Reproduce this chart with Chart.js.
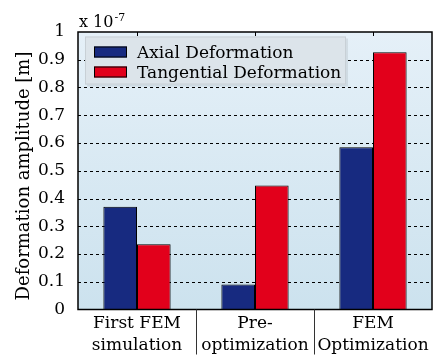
<!DOCTYPE html>
<html>
<head>
<meta charset="utf-8">
<script src="https://cdn.jsdelivr.net/npm/chart.js@4"></script>
<style>
  html, body { margin: 0; padding: 0; background: #ffffff; }
  #wrap { width: 439px; height: 358px; }
</style>
</head>
<body>
<div id="wrap"><canvas id="c" width="439" height="358"></canvas></div>
<script>
// Stage labels (two lines each) and measured amplitudes in units of 1e-7 m
const categories = [["First FEM", "simulation"], ["Pre-", "optimization"], ["FEM", "Optimization"]];
const axialValues = [0.37, 0.09, 0.585];
const tangentialValues = [0.235, 0.447, 0.927];
const seriesNames = ["Axial Deformation", "Tangential Deformation"];
const seriesColors = ["#172a80", "#e2001b"];
const yTickValues = [0, 0.1, 0.2, 0.3, 0.4, 0.5, 0.6, 0.7, 0.8, 0.9, 1];
const yTitle = "Deformation amplitude [m]";

const FONT = "'DejaVu Serif', serif";

// Light blue gradient and dashed horizontal grid behind the bars
const bgPlugin = {
  id: 'plotBackground',
  beforeDatasetsDraw(chart) {
    const { ctx, chartArea: a } = chart;
    const ys = chart.scales.y;
    const g = ctx.createLinearGradient(0, a.top, 0, a.bottom);
    g.addColorStop(0, '#e5f0f8');
    g.addColorStop(1, '#cce2ee');
    ctx.save();
    ctx.fillStyle = g;
    ctx.fillRect(a.left, a.top, a.right - a.left, a.bottom - a.top);
    ctx.strokeStyle = '#000';
    ctx.lineWidth = 1;
    ctx.setLineDash([3, 3]);
    yTickValues.forEach(v => {
      if (v === 0 || v === 1) return;
      const y = Math.round(ys.getPixelForValue(v)) + 0.5;
      ctx.beginPath();
      ctx.moveTo(a.left, y);
      ctx.lineTo(a.right, y);
      ctx.stroke();
    });
    ctx.restore();
  }
};

// Frame, top ticks at group centres, group separators under the axis,
// axis title, exponent label and the boxed legend
const decorPlugin = {
  id: 'decor',
  afterDraw(chart) {
    const { ctx, chartArea: a } = chart;
    const xs = chart.scales.x;
    ctx.save();
    // frame
    ctx.strokeStyle = '#000';
    ctx.lineWidth = 1.5;
    ctx.strokeRect(a.left, a.top, a.right - a.left, a.bottom - a.top);
    // top ticks
    ctx.lineWidth = 1;
    for (let i = 0; i < categories.length; i++) {
      const x = Math.round(xs.getPixelForValue(i)) + 0.5;
      ctx.beginPath();
      ctx.moveTo(x, a.top);
      ctx.lineTo(x, a.top + 4);
      ctx.stroke();
    }
    // separators between category labels
    ctx.strokeStyle = '#333';
    for (let i = 0; i < categories.length - 1; i++) {
      const x = Math.round((xs.getPixelForValue(i) + xs.getPixelForValue(i + 1)) / 2) + 0.5;
      ctx.beginPath();
      ctx.moveTo(x, a.bottom);
      ctx.lineTo(x, a.bottom + 45);
      ctx.stroke();
    }
    // rotated y-axis title
    ctx.fillStyle = '#000';
    ctx.save();
    ctx.translate(24, 176);
    ctx.rotate(-Math.PI / 2);
    ctx.textAlign = 'center';
    ctx.textBaseline = 'middle';
    ctx.font = '18px ' + FONT;
    ctx.fillText(yTitle, 0, 0);
    ctx.restore();
    // exponent
    ctx.textBaseline = 'alphabetic';
    ctx.textAlign = 'left';
    ctx.font = '16px ' + FONT;
    ctx.fillText('x 10', a.left + 1, 27);
    const w = ctx.measureText('x 10').width;
    ctx.font = '11px ' + FONT;
    ctx.fillText('-7', a.left + 1 + w + 1, 21);

    // legend
    const lx = a.left + 7, ly = a.top + 4.5, lw = 261, lh = 48;
    ctx.fillStyle = 'rgba(0,0,0,0.08)';
    ctx.fillRect(lx + 2, ly + 2, lw, lh);
    ctx.fillStyle = '#dce4ea';
    ctx.fillRect(lx, ly, lw, lh);
    ctx.strokeStyle = '#c8d0d6';
    ctx.lineWidth = 1;
    ctx.strokeRect(lx + 0.5, ly + 0.5, lw - 1, lh - 1);
    ctx.font = '17px ' + FONT;
    chart.data.datasets.forEach((ds, i) => {
      const sy = ly + 10 + i * 20;
      ctx.fillStyle = ds.backgroundColor;
      ctx.fillRect(lx + 9, sy, 33, 11);
      ctx.strokeStyle = '#000';
      ctx.strokeRect(lx + 9.5, sy + 0.5, 32, 10);
      ctx.fillStyle = '#000';
      ctx.fillText(ds.label, lx + 52, sy + 11);
    });
    ctx.restore();
  }
};

new Chart(document.getElementById('c'), {
  type: 'bar',
  data: {
    labels: categories,
    datasets: [
      { label: seriesNames[0], data: axialValues, backgroundColor: seriesColors[0], borderColor: '#000', borderWidth: 1 },
      { label: seriesNames[1], data: tangentialValues, backgroundColor: seriesColors[1], borderColor: '#000', borderWidth: 1 }
    ]
  },
  options: {
    responsive: false,
    animation: false,
    devicePixelRatio: 1,
    layout: { padding: { top: 32, right: 7, left: 0, bottom: 0 } },
    plugins: { legend: { display: false }, tooltip: { enabled: false } },
    datasets: { bar: { categoryPercentage: 0.57, barPercentage: 1.0 } },
    scales: {
      x: {
        grid: { display: false },
        border: { display: false },
        ticks: { color: '#000', font: { family: FONT, size: 17, lineHeight: 1.3 }, maxRotation: 0, padding: -5 },
        afterFit(s) { s.height = 48.5; }
      },
      y: {
        min: 0, max: 1,
        afterBuildTicks(s) { s.ticks = yTickValues.map(v => ({ value: v })); },
        ticks: {
          color: '#000', font: { family: FONT, size: 17 }, padding: 5,
          callback: v => String(Math.round(v * 10) / 10)
        },
        grid: { display: false },
        border: { display: false },
        afterFit(s) { s.width = 78; }
      }
    }
  },
  plugins: [bgPlugin, decorPlugin]
});
</script>
</body>
</html>
